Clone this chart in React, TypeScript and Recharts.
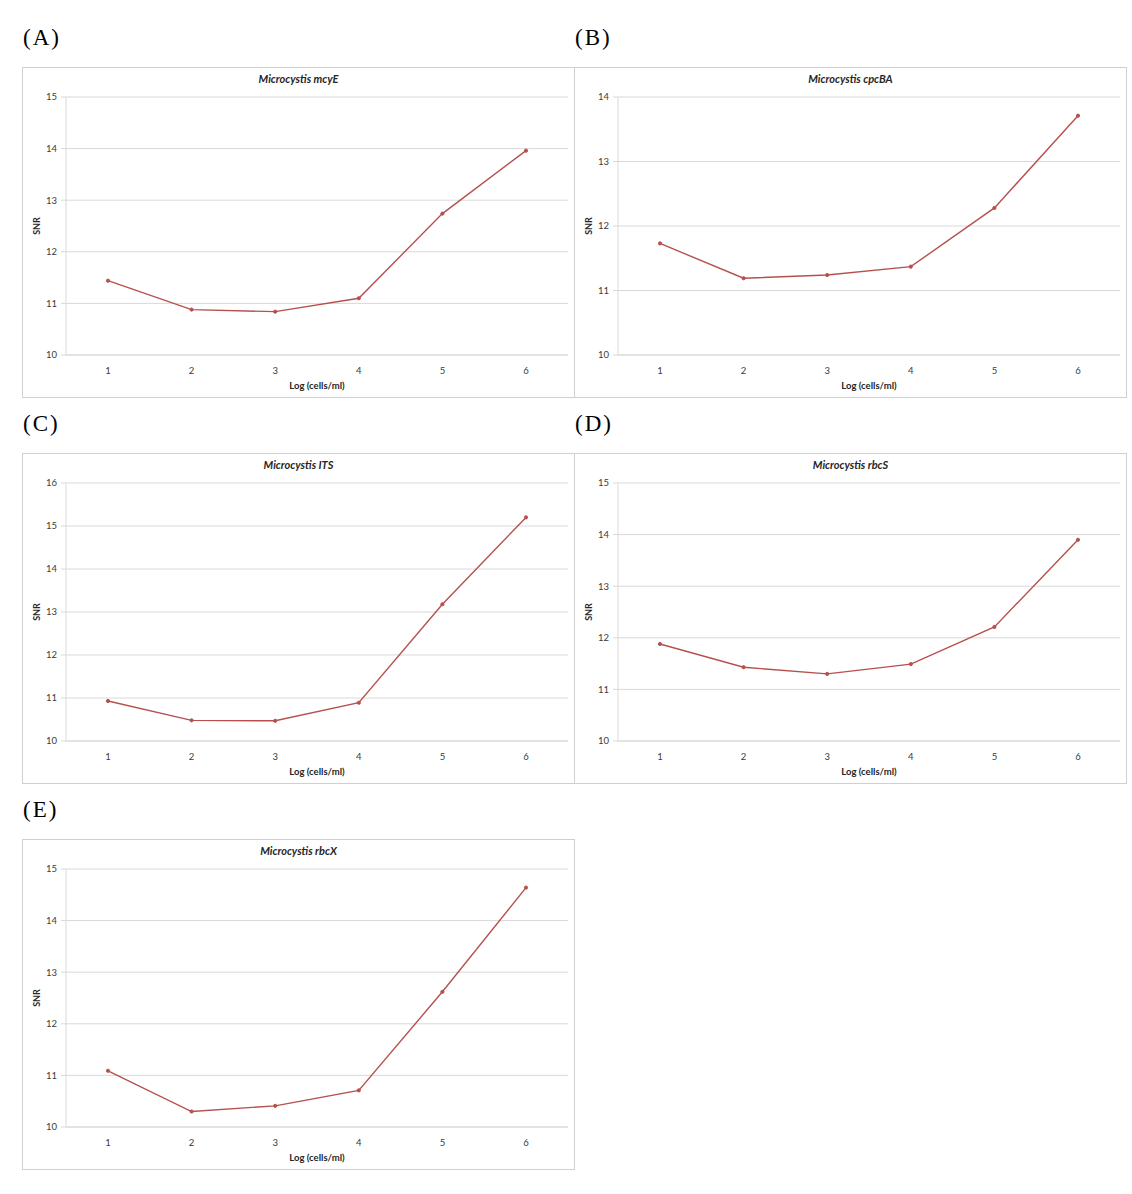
import React from "react";
import { LineChart, Line, XAxis, YAxis, CartesianGrid } from "recharts";

const xLabels = ["1", "2", "3", "4", "5", "6"];
const mcyE = [11.44, 10.88, 10.84, 11.1, 12.74, 13.96];
const cpcBA = [11.73, 11.19, 11.24, 11.37, 12.28, 13.71];
const its = [10.93, 10.48, 10.47, 10.89, 13.18, 15.2];
const rbcS = [11.88, 11.43, 11.3, 11.49, 12.21, 13.9];
const rbcX = [11.09, 10.3, 10.41, 10.71, 12.62, 14.64];

const ticksA = [10, 11, 12, 13, 14, 15];
const ticksB = [10, 11, 12, 13, 14];
const ticksC = [10, 11, 12, 13, 14, 15, 16];

const FONT = "Lato, 'Open Sans', sans-serif";
const LINE = "#b6504e";
const GRID = "#d9d9d9";

type PanelProps = {
  tag: string;
  gene: string;
  values: number[];
  ticks: number[];
  left: number;
  top: number;
};

function Panel({ tag, gene, values, ticks, left, top }: PanelProps) {
  const data = xLabels.map((x, i) => ({ x, snr: values[i] }));
  return (
    <>
      <div
        style={{
          position: "absolute",
          left: left + 1,
          top: top - 42,
          fontFamily: "'Liberation Serif', 'DejaVu Serif', serif",
          fontSize: 23,
          letterSpacing: 2,
          color: "#000",
        }}
      >
        {tag}
      </div>
      <div
        style={{
          position: "absolute",
          left,
          top,
          width: 553,
          height: 331,
          boxSizing: "border-box",
          border: "1px solid #d0d0d0",
          background: "#fff",
        }}
      >
        <div
          style={{
            position: "absolute",
            left: 0,
            right: 0,
            top: 4,
            textAlign: "center",
            fontFamily: FONT,
            fontSize: 11,
            fontWeight: 700,
            fontStyle: "italic",
            color: "#262626",
          }}
        >
          Microcystis {gene}
        </div>
        <LineChart
          width={551}
          height={329}
          data={data}
          margin={{ top: 29, right: 6, left: 4, bottom: 6 }}
        >
          <CartesianGrid vertical={false} stroke={GRID} strokeWidth={1} />
          <XAxis
            dataKey="x"
            padding={{ left: 42, right: 42 }}
            height={36}
            axisLine={{ stroke: GRID }}
            tickLine={false}
            tickSize={6}
            tickMargin={6}
            tick={{ fontFamily: FONT, fontSize: 9.5, fill: "#3a3a3a" }}
            label={{
              value: "Log (cells/ml)",
              position: "insideBottom",
              offset: 2,
              style: { fontFamily: FONT, fontSize: 9.5, fontWeight: 700, fill: "#262626" },
            }}
          />
          <YAxis
            width={39}
            domain={[ticks[0], ticks[ticks.length - 1]]}
            ticks={ticks}
            axisLine={{ stroke: GRID }}
            tickLine={{ stroke: GRID }}
            tickSize={5}
            tickMargin={4}
            tick={{ fontFamily: FONT, fontSize: 9.5, fill: "#3a3a3a" }}
            label={{
              value: "SNR",
              angle: -90,
              position: "insideLeft",
              offset: 10,
              style: { textAnchor: "middle", fontFamily: FONT, fontSize: 9, fontWeight: 700, fill: "#262626" },
            }}
          />
          <Line
            type="linear"
            dataKey="snr"
            stroke={LINE}
            strokeWidth={1.4}
            dot={{ r: 1.6, fill: LINE, stroke: LINE, strokeWidth: 1 }}
            activeDot={false}
            isAnimationActive={false}
          />
        </LineChart>
      </div>
    </>
  );
}

export default function App() {
  return (
    <div style={{ position: "relative", width: 1132, height: 1194, background: "#fff" }}>
      <style>{"body{margin:0;background:#fff}"}</style>
      <Panel tag="(A)" gene="mcyE" values={mcyE} ticks={ticksA} left={22} top={67} />
      <Panel tag="(B)" gene="cpcBA" values={cpcBA} ticks={ticksB} left={574} top={67} />
      <Panel tag="(C)" gene="ITS" values={its} ticks={ticksC} left={22} top={453} />
      <Panel tag="(D)" gene="rbcS" values={rbcS} ticks={ticksA} left={574} top={453} />
      <Panel tag="(E)" gene="rbcX" values={rbcX} ticks={ticksA} left={22} top={839} />
    </div>
  );
}
